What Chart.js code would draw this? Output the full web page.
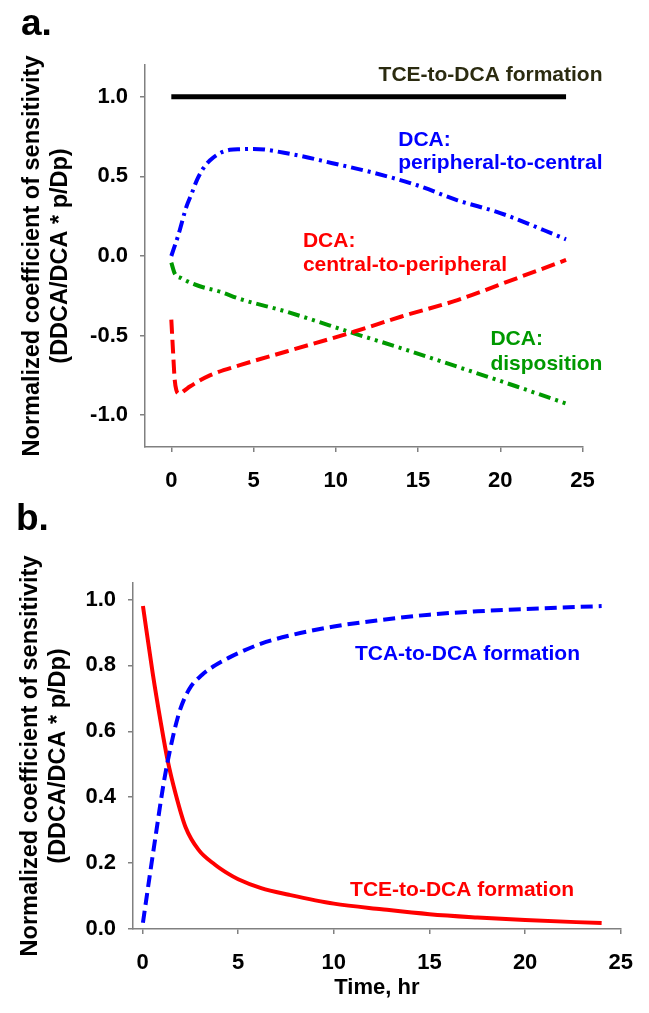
<!DOCTYPE html>
<html>
<head>
<meta charset="utf-8">
<script src="https://cdn.jsdelivr.net/npm/chart.js@4.4.1/dist/chart.umd.min.js"></script>
<style>
  html, body { margin: 0; padding: 0; background: #fff; }
  #wrap { position: relative; width: 649px; height: 1013px; overflow: hidden; }
  .panel { position: absolute; left: 0; width: 649px; }
  #boxA { top: 0; height: 500px; }
  #boxB { top: 500px; height: 513px; }
  .tag { position: absolute; font: bold 37px 'Liberation Sans', Arial, sans-serif; line-height: 1; color: #000; }
</style>
</head>
<body>
<div id="wrap">
  <div class="panel" id="boxA"><canvas id="chartA"></canvas></div>
  <div class="panel" id="boxB"><canvas id="chartB"></canvas></div>
  <div class="tag" style="left:21px; top:4px;">a.</div>
  <div class="tag" style="left:16px; top:499px;">b.</div>
</div>
<script>
// --- data, panel a ---
const formX = [0, 24];
const formY = [1, 1];

const periX = [0, 0.42, 0.92, 1.23, 1.57, 1.94, 2.34, 2.95, 3.56, 4.2, 5.0, 7.3, 9.8, 12.4, 14.9, 17.4, 20.0, 24.0];
const periY = [0, 0.13, 0.31, 0.39, 0.48, 0.55, 0.60, 0.646, 0.667, 0.671, 0.673, 0.64, 0.583, 0.52, 0.446, 0.35, 0.27, 0.105];

const centX = [0, 0.1, 0.2, 0.3, 0.48, 0.8, 1.13, 2.34, 4.17, 7.0, 11.1, 14.0, 17.4, 21.0, 24.0];
const centY = [-0.40, -0.59, -0.77, -0.84, -0.865, -0.845, -0.82, -0.75, -0.686, -0.60, -0.476, -0.38, -0.277, -0.14, -0.025];

const dispX = [0, 0.21, 0.62, 1.73, 2.95, 4.17, 7.0, 11.1, 14.0, 17.4, 21.0, 24.0];
const dispY = [-0.042, -0.11, -0.14, -0.19, -0.224, -0.27, -0.35, -0.486, -0.58, -0.696, -0.82, -0.927];

// --- data, panel b ---
const tceX = [0.02, 0.53, 0.96, 1.3, 1.73, 2.25, 2.93, 3.79, 4.47, 5.0, 6.2, 7.65, 10, 12.5, 15, 17.5, 20, 24];
const tceY = [0.98, 0.776, 0.624, 0.515, 0.41, 0.309, 0.240, 0.195, 0.168, 0.151, 0.124, 0.104, 0.077, 0.060, 0.045, 0.035, 0.027, 0.018];

const tcaX = [0.02, 0.36, 0.70, 1.04, 1.3, 1.9, 2.42, 3.1, 3.79, 4.47, 5.0, 6.2, 7.65, 10, 12.5, 15, 17.5, 20, 24];
const tcaY = [0.019, 0.156, 0.289, 0.42, 0.505, 0.654, 0.726, 0.771, 0.80, 0.822, 0.837, 0.866, 0.890, 0.918, 0.938, 0.954, 0.964, 0.971, 0.98];

// --- ticks and labels ---
const ticksX = [0, 5, 10, 15, 20, 25];
const ticksYA = [-1.0, -0.5, 0, 0.5, 1.0];
const ticksYB = [0, 0.2, 0.4, 0.6, 0.8, 1.0];
const yTitle = ['Normalized coefficient of sensitivity', '(DDCA/DCA * p/Dp)'];
const xTitle = 'Time, hr';

const notesAText = ['TCE-to-DCA formation', 'DCA:', 'peripheral-to-central', 'DCA:', 'central-to-peripheral', 'DCA:', 'disposition'];
const notesAX = [12.6, 13.8, 13.8, 8.0, 8.0, 19.4, 19.4];
const notesAY = [1.138, 0.73, 0.58, 0.094, -0.057, -0.525, -0.682];
const notesBText = ['TCA-to-DCA formation', 'TCE-to-DCA formation'];
const notesBX = [11.1, 10.85];
const notesBY = [0.834, 0.117];

const FONT = "'Liberation Sans', Arial, sans-serif";
const BLUE = '#0000ff', RED = '#ff0000', GREEN = '#009900', DARK = '#2b2b10';
const AXIS = '#808080';

function pts(xs, ys) {
    return xs.map((x, i) => ({ x: x, y: ys[i] }));
}

function series(xs, ys, color, dash, width) {
    return {
        data: pts(xs, ys),
        borderColor: color,
        borderWidth: width || 4,
        borderDash: dash,
        pointRadius: 0,
        fill: false,
        cubicInterpolationMode: 'monotone'
    };
}

// notes drawn at data positions through the chart scales
function notes(texts, xs, ys, colors) {
    return {
        id: 'notes',
        afterDatasetsDraw(chart) {
            const { ctx, scales } = chart;
            ctx.save();
            ctx.font = 'bold 21px ' + FONT;
            ctx.textBaseline = 'middle';
            ctx.textAlign = 'left';
            texts.forEach((t, i) => {
                ctx.fillStyle = colors[i];
                ctx.fillText(t, scales.x.getPixelForValue(xs[i]), scales.y.getPixelForValue(ys[i]));
            });
            ctx.restore();
        }
    };
}

function axis(min, max, ticks) {
    return {
        type: 'linear',
        min: min,
        max: max,
        afterBuildTicks: s => { s.ticks = ticks.map(v => ({ value: v })); },
        border: { display: true, color: AXIS, width: 1.5 },
        grid: { drawOnChartArea: false, tickLength: 5, color: AXIS, lineWidth: 1.5 },
        ticks: {
            color: '#000',
            font: { family: FONT, size: 22, weight: 'bold' },
            maxRotation: 0,
            autoSkip: false
        }
    };
}

Chart.defaults.animation = false;

// --- panel a ---
const xA = axis(-1.6, 25, ticksX);
xA.afterFit = s => { s.height = 53; };
xA.ticks.padding = 16;

const yA = axis(-1.2, 1.2, ticksYA);
yA.afterFit = s => { s.width = 145; };
yA.ticks.padding = 12;
yA.ticks.callback = v => v.toFixed(1);
yA.title = {
    display: true, text: yTitle, color: '#000',
    font: { family: FONT, size: 23.5, weight: 'bold', lineHeight: 1.15 },
    padding: { top: 19.5, bottom: 0 }
};

new Chart(document.getElementById('chartA'), {
    type: 'line',
    data: {
        datasets: [
            series(formX, formY, '#000', [], 5),
            series(periX, periY, BLUE, [12, 5, 3, 5]),
            series(centX, centY, RED, [14, 6]),
            series(dispX, dispY, GREEN, [12, 5, 3, 5, 3, 5])
        ]
    },
    options: {
        responsive: true,
        maintainAspectRatio: false,
        layout: { padding: { top: 65, right: 66.5, left: 0, bottom: 0 } },
        plugins: { legend: { display: false }, tooltip: { enabled: false } },
        scales: { x: xA, y: yA }
    },
    plugins: [notes(notesAText, notesAX, notesAY, [DARK, BLUE, BLUE, RED, RED, GREEN, GREEN])]
});

// --- panel b ---
const xB = axis(-0.5, 25, ticksX);
xB.afterFit = s => { s.height = 84; };
xB.ticks.padding = 16;
xB.title = {
    display: true, text: xTitle, color: '#000',
    font: { family: FONT, size: 22, weight: 'bold', lineHeight: 1.2 },
    padding: { top: 0, bottom: 11.8 }
};

const yB = axis(0, 1.05, ticksYB);
yB.afterFit = s => { s.width = 133; };
yB.ticks.padding = 12;
yB.ticks.callback = v => v.toFixed(1);
yB.title = {
    display: true, text: yTitle, color: '#000',
    font: { family: FONT, size: 23.5, weight: 'bold', lineHeight: 1.15 },
    padding: { top: 17.5, bottom: 0 }
};

new Chart(document.getElementById('chartB'), {
    type: 'line',
    data: {
        datasets: [
            series(tcaX, tcaY, BLUE, [12, 6]),
            series(tceX, tceY, RED, [])
        ]
    },
    options: {
        responsive: true,
        maintainAspectRatio: false,
        layout: { padding: { top: 83, right: 20, left: 0, bottom: 0 } },
        plugins: { legend: { display: false }, tooltip: { enabled: false } },
        scales: { x: xB, y: yB }
    },
    plugins: [notes(notesBText, notesBX, notesBY, [BLUE, RED])]
});
</script>
</body>
</html>
